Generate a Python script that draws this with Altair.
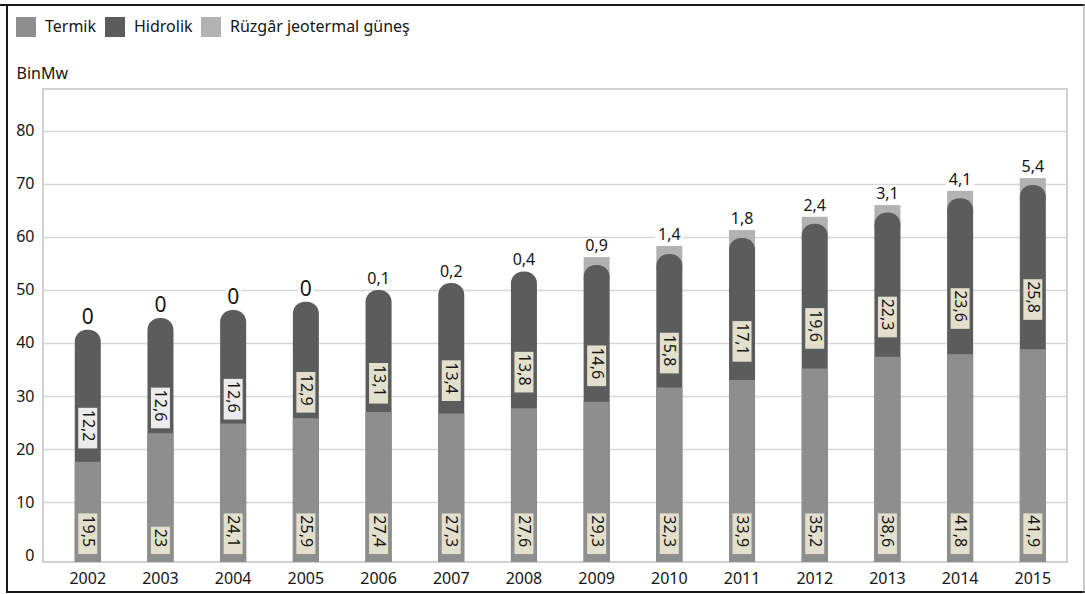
import altair as alt
import pandas as pd

# ---- data ----
years = ["2002", "2003", "2004", "2005", "2006", "2007", "2008",
         "2009", "2010", "2011", "2012", "2013", "2014", "2015"]
# bar segment tops as drawn (BinMw)
termik_top = [17.6, 23.0, 24.8, 25.8, 27.0, 26.7, 27.7, 28.9, 31.6, 33.0, 35.2, 37.4, 37.9, 38.8]
hidro_top = [42.5, 44.7, 46.2, 47.8, 50.0, 51.3, 53.5, 54.7, 56.8, 59.8, 62.5, 64.6, 67.3, 69.8]
total_top = [42.5, 44.7, 46.2, 47.8, 50.0, 51.3, 53.5, 56.2, 58.3, 61.3, 63.8, 66.0, 68.7, 71.1]
# printed labels
termik_lbl = ["19,5", "23", "24,1", "25,9", "27,4", "27,3", "27,6",
              "29,3", "32,3", "33,9", "35,2", "38,6", "41,8", "41,9"]
hidro_lbl = ["12,2", "12,6", "12,6", "12,9", "13,1", "13,4", "13,8",
             "14,6", "15,8", "17,1", "19,6", "22,3", "23,6", "25,8"]
renew_lbl = ["0", "0", "0", "0", "0,1", "0,2", "0,4",
             "0,9", "1,4", "1,8", "2,4", "3,1", "4,1", "5,4"]

SERIES = ["Termik", "Hidrolik", "Rüzgâr jeotermal güneş"]
COLORS = ["#8e8e8e", "#5c5c5c", "#b2b2b2"]

Y_MIN, Y_MAX = -1.3, 87.9
H, W = 473, 1024
PX = H / (Y_MAX - Y_MIN)  # pixels per unit
FONT = "Noto Sans"
INK = "#151515"


def tw(s):
    return sum(9.15 if ch.isdigit() else 4.2 for ch in s)


# ---- tables ----
bar_rows = []
box_rows = []
for i, yr in enumerate(years):
    bar_rows.append(dict(year=yr, Seri="Termik", y0=Y_MIN, y1=termik_top[i]))
    bar_rows.append(dict(year=yr, Seri="Hidrolik", y0=Y_MIN, y1=hidro_top[i]))
    if total_top[i] > hidro_top[i]:
        bar_rows.append(dict(year=yr, Seri="Rüzgâr jeotermal güneş",
                             y0=hidro_top[i] - 3, y1=total_top[i]))
    # termik label box
    L = (tw(termik_lbl[i]) + 9) / PX
    b0 = 0.2
    box_rows.append(dict(year=yr, kind="t", lbl=termik_lbl[i], b0=b0, b1=b0 + L,
                         ty=b0 + L / 2 + 2.5 / PX, fill="#e3dfcd"))
    # hidrolik label box
    L = (tw(hidro_lbl[i]) + 9) / PX
    c = (termik_top[i] + hidro_top[i]) / 2 - 6.1
    box_rows.append(dict(year=yr, kind="h", lbl=hidro_lbl[i], b0=c - L / 2, b1=c + L / 2,
                         ty=c + 2.5 / PX,
                         fill="#ececec" if int(yr) <= 2004 else "#e3dfcd"))

bars = pd.DataFrame(bar_rows)
boxes = pd.DataFrame(box_rows)
tops = pd.DataFrame(dict(year=years, top=total_top, lbl=renew_lbl))
tops["zero"] = tops["lbl"] == "0"
tops["w0"] = tops["top"] + 2.5 / PX
tops["w1"] = tops["top"] + tops["zero"].map({True: 22, False: 19}) / PX

xscale = alt.Scale(domain=years, paddingInner=0.642, paddingOuter=0.364, align=0.6)
yscale = alt.Scale(domain=[Y_MIN, Y_MAX], nice=False, zero=False)

X = alt.X("year:N", scale=xscale, title=None,
          axis=alt.Axis(labelFontSize=16, labelFont=FONT, labelColor=INK, ticks=False,
                        domain=False, labelPadding=8, labelAngle=0, grid=False))
color = alt.Color("Seri:N", scale=alt.Scale(domain=SERIES, range=COLORS),
                  legend=alt.Legend(orient="none", legendX=-27, legendY=-72,
                                    direction="horizontal", title=None,
                                    symbolType="square", symbolSize=400,
                                    symbolStrokeWidth=0, symbolOpacity=1,
                                    labelFontSize=16, labelFont=FONT, labelColor=INK,
                                    labelOffset=9, columnPadding=8, padding=0,
                                    labelLimit=400))

yaxis = alt.Axis(values=list(range(0, 90, 10)), title="BinMw", titleAngle=0,
                 titleAlign="left", titleX=-27, titleY=-11, titleBaseline="alphabetic",
                 titleFontSize=16, titleFont=FONT, titleFontWeight="normal",
                 titleColor=INK, labelFontSize=16, labelFont=FONT, labelColor=INK,
                 ticks=False, domain=False, labelPadding=9,
                 gridColor="#d6d6d6", gridWidth=1.5,
                 gridOpacity={"condition": {"test": "datum.value === 0", "value": 0},
                              "value": 1})

renew_layer = alt.Chart(bars).transform_filter(
    "datum.Seri === 'Rüzgâr jeotermal güneş'"
).mark_bar().encode(
    x=X, y=alt.Y("y1:Q", scale=yscale, axis=yaxis), y2="y0:Q", color=color)

hidro_layer = alt.Chart(bars).transform_filter("datum.Seri === 'Hidrolik'").mark_bar(
    cornerRadiusTopLeft=12, cornerRadiusTopRight=12
).encode(x=X, y=alt.Y("y1:Q", scale=yscale), y2="y0:Q", color=color)

termik_layer = alt.Chart(bars).transform_filter("datum.Seri === 'Termik'").mark_bar().encode(
    x=X, y=alt.Y("y1:Q", scale=yscale), y2="y0:Q", color=color)

box_layer = alt.Chart(boxes).mark_bar(width=19).encode(
    x=X, y=alt.Y("b1:Q", scale=yscale), y2="b0:Q",
    fill=alt.Fill("fill:N", scale=None))

box_text = alt.Chart(boxes).mark_text(
    angle=90, align="center", baseline="middle", font=FONT, fontSize=16, color=INK
).encode(x=X, y=alt.Y("ty:Q", scale=yscale), text="lbl:N")

white_zero = alt.Chart(tops).transform_filter("datum.zero").mark_bar(
    width=15, color="white").encode(x=X, y=alt.Y("w1:Q", scale=yscale), y2="w0:Q")
white_other = alt.Chart(tops).transform_filter("!datum.zero").mark_bar(
    width=28, color="white").encode(x=X, y=alt.Y("w1:Q", scale=yscale), y2="w0:Q")

top_text = alt.Chart(tops).mark_text(
    baseline="alphabetic", align="center", dy=-6, font=FONT, color=INK
).encode(
    x=X, y=alt.Y("top:Q", scale=yscale), text="lbl:N",
    size=alt.condition("datum.lbl === '0'", alt.value(21), alt.value(16)))

one = pd.DataFrame({"k": [0]})
frame_top = alt.Chart(one).mark_rule(color="#1a1a1a", strokeWidth=2).encode(
    x=alt.value(-43), x2=alt.value(1042), y=alt.value(-84))
frame_left = alt.Chart(one).mark_rule(color="#1a1a1a", strokeWidth=2).encode(
    x=alt.value(-36), y=alt.value(-85), y2=alt.value(504))
frame_bottom = alt.Chart(one).mark_rule(color="#1a1a1a", strokeWidth=2).encode(
    x=alt.value(-37), x2=alt.value(1042), y=alt.value(503))
frame_right = alt.Chart(one).mark_rule(color="#9a9a9a", strokeWidth=1).encode(
    x=alt.value(1041), y=alt.value(-85), y2=alt.value(504))

chart = alt.layer(
    renew_layer, hidro_layer, termik_layer, box_layer, box_text,
    white_zero, white_other, top_text,
    frame_top, frame_left, frame_bottom, frame_right
).properties(
    width=W, height=H,
    padding={"left": 43, "top": 89, "right": 18, "bottom": 32},
    autosize=alt.AutoSizeParams(type="none"),
    background="white",
).configure_view(stroke="#d0d0d0", strokeWidth=2)

chart.save("out.html", embed_options={"renderer": "svg", "actions": False})
